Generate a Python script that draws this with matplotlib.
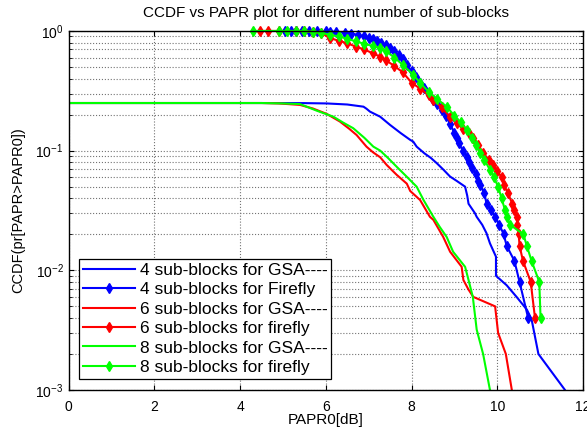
import numpy as np
import matplotlib
matplotlib.use('Agg')
import matplotlib.pyplot as plt

plt.rcParams['font.family'] = ['Liberation Sans', 'DejaVu Sans']

# GSA curves (PAPR0 in dB, CCDF)
gsa4_x = [0, 0, 4.5, 5.5, 6.02, 6.5, 6.88, 6.95, 7.03, 7.27, 7.5, 7.75, 7.97, 8.04, 8.12,
          8.3, 8.45, 8.59, 8.75, 8.9, 9.05, 9.25, 9.3, 9.33, 9.48, 9.52, 9.65, 9.75, 9.83,
          9.97, 9.97, 10.22, 10.45, 10.69, 10.8, 10.96, 11.58, 11.62]
gsa4_y = [1, 0.25, 0.25, 0.2495, 0.248, 0.243, 0.233, 0.224, 0.212, 0.192, 0.164, 0.14,
          0.123, 0.119, 0.108, 0.095, 0.087, 0.0785, 0.069, 0.0607, 0.056, 0.05, 0.042,
          0.036, 0.03, 0.028, 0.024, 0.0204, 0.0168, 0.013, 0.009, 0.0075, 0.006, 0.0047,
          0.0039, 0.002, 0.001, 0.00095]

gsa6_x = [0, 0, 4.5, 4.9, 5.4, 5.7, 6.02, 6.33, 6.55, 6.72, 6.95, 7.1, 7.27, 7.42, 7.65,
          7.89, 7.97, 8.2, 8.43, 8.51, 8.74, 8.9, 9.17, 9.21, 9.33, 9.44, 9.95, 10.02,
          10.2, 10.34, 10.36]
gsa6_y = [1, 0.25, 0.25, 0.248, 0.241, 0.225, 0.203, 0.175, 0.152, 0.135, 0.108, 0.097,
          0.088, 0.076, 0.063, 0.053, 0.046, 0.0387, 0.028, 0.0264, 0.019, 0.0143, 0.0107,
          0.0083, 0.0069, 0.006, 0.005, 0.003, 0.002, 0.001, 0.00095]

gsa8_x = [0, 0, 4.5, 5.0, 5.4, 5.8, 6.18, 6.4, 6.64, 6.9, 7.11, 7.27, 7.45, 7.66, 7.9,
          8.12, 8.28, 8.51, 8.66, 8.82, 8.97, 9.25, 9.33, 9.43, 9.52, 9.67, 9.83, 9.85]
gsa8_y = [1, 0.25, 0.25, 0.248, 0.245, 0.215, 0.192, 0.172, 0.154, 0.128, 0.108, 0.1,
          0.087, 0.073, 0.06, 0.05, 0.0387, 0.028, 0.023, 0.019, 0.0143, 0.0107, 0.0083,
          0.006, 0.0032, 0.002, 0.001, 0.00095]

# Firefly curves
ff4_x = [5.05, 5.2, 5.3, 5.45, 5.6, 5.8, 6.0, 6.1, 6.25, 6.45, 6.6, 6.75, 6.9, 7.0, 7.1,
         7.2, 7.3, 7.4, 7.5, 7.6, 7.7, 7.8, 7.9, 8.0, 8.1, 8.2, 8.3, 8.4, 8.5, 8.6, 8.7,
         8.8, 8.9, 9.0, 9.05, 9.1, 9.2, 9.3, 9.35, 9.4, 9.5, 9.55, 9.6, 9.7, 9.75, 9.85,
         9.95, 10.05, 10.15, 10.22, 10.4, 10.52, 10.72]
ff4_y = [1.0, 1.0, 1.0, 1.0, 1.0, 0.996, 0.992, 0.988, 0.98, 0.968, 0.952, 0.928, 0.9,
         0.876, 0.852, 0.82, 0.788, 0.756, 0.716, 0.676, 0.628, 0.58, 0.524, 0.46, 0.412,
         0.368, 0.332, 0.296, 0.264, 0.244, 0.22, 0.196, 0.168, 0.14, 0.128, 0.116, 0.1,
         0.088, 0.08, 0.072, 0.064, 0.056, 0.052, 0.044, 0.036, 0.032, 0.028, 0.024, 0.02,
         0.016, 0.012, 0.008, 0.004]

ff6_x = [4.47, 4.65, 4.9, 5.3, 5.5, 5.7, 5.9, 6.1, 6.3, 6.5, 6.7, 6.9, 7.1, 7.27, 7.4,
         7.6, 7.8, 8.0, 8.2, 8.4, 8.51, 8.7, 8.9, 9.05, 9.2, 9.35, 9.44, 9.55, 9.67, 9.8,
         9.9, 10.0, 10.1, 10.15, 10.25, 10.35, 10.4, 10.45, 10.47, 10.5, 10.52, 10.6,
         10.78, 10.88]
ff6_y = [1.0, 1.0, 1.0, 1.0, 0.996, 0.98, 0.96, 0.87, 0.83, 0.79, 0.74, 0.7, 0.65, 0.61,
         0.57, 0.51, 0.45, 0.37, 0.33, 0.29, 0.265, 0.23, 0.19, 0.169, 0.152, 0.14, 0.128,
         0.112, 0.096, 0.084, 0.076, 0.068, 0.06, 0.052, 0.044, 0.036, 0.032, 0.028,
         0.024, 0.02, 0.016, 0.012, 0.008, 0.004]

ff8_x = [4.31, 4.9, 5.1, 5.3, 5.5, 5.7, 5.9, 6.1, 6.3, 6.5, 6.7, 6.9, 7.1, 7.27, 7.4,
         7.6, 7.8, 8.04, 8.2, 8.4, 8.6, 8.82, 9.0, 9.15, 9.29, 9.4, 9.5, 9.6, 9.7, 9.83,
         9.92, 10.02, 10.1, 10.18, 10.22, 10.3, 10.61, 10.69, 10.8, 10.98, 11.01]
ff8_y = [1.0, 1.0, 1.0, 1.0, 0.996, 0.984, 0.964, 0.93, 0.9, 0.86, 0.82, 0.78, 0.75,
         0.72, 0.68, 0.6, 0.52, 0.43, 0.37, 0.31, 0.27, 0.233, 0.196, 0.172, 0.149, 0.128,
         0.112, 0.096, 0.084, 0.069, 0.06, 0.05, 0.04, 0.032, 0.028, 0.024, 0.02, 0.016,
         0.012, 0.008, 0.004]

fig = plt.figure(figsize=(5.87, 4.30), dpi=100)
ax = fig.add_axes([0.1167, 0.093, 0.8765, 0.835])

mk = dict(marker='d', markersize=5, markeredgewidth=1.0, clip_on=False)
ax.semilogy(gsa4_x, gsa4_y, color='b', lw=1.5, label='4 sub-blocks for GSA----')
ax.semilogy(ff4_x, ff4_y, color='b', lw=1.5, **mk, label='4 sub-blocks for Firefly')
ax.semilogy(gsa6_x, gsa6_y, color='r', lw=1.5, label='6 sub-blocks for GSA----')
ax.semilogy(ff6_x, ff6_y, color='r', lw=1.5, **mk, label='6 sub-blocks for firefly')
ax.semilogy(gsa8_x, gsa8_y, color='#00ff00', lw=1.5, label='8 sub-blocks for GSA----')
ax.semilogy(ff8_x, ff8_y, color='#00ff00', lw=1.5, **mk, label='8 sub-blocks for firefly')

ax.set_xlim(0, 12)
ax.set_ylim(1e-3, 1)
ax.set_xticks([0, 2, 4, 6, 8, 10, 12])
ax.grid(True, which='major', color='0.45', linestyle=':', lw=0.8)
ax.grid(True, which='minor', axis='y', color='0.45', linestyle=':', lw=0.8)
ax.tick_params(which='both', direction='in', top=True, right=True, labelsize=10)
ax.tick_params(axis='x', pad=7)
ax.tick_params(which='minor', length=2)
for s in ax.spines.values():
    s.set_linewidth(1.0)
    s.set_zorder(3)

ax.set_title('CCDF vs PAPR plot for different number of sub-blocks', fontsize=11, pad=10)
ax.set_xlabel('PAPR0[dB]', fontsize=11)
ax.set_ylabel('CCDF(pr[PAPR>PAPR0])', fontsize=10.5)
ax.xaxis.set_label_coords(0.5, -0.065)
ax.yaxis.set_label_coords(-0.085, 0.5)

leg = ax.legend(loc='lower left', bbox_to_anchor=(0.02, 0.031), fontsize=12.5,
                handlelength=3.0, handletextpad=0.3, labelspacing=0.25,
                borderpad=0.22, borderaxespad=0, fancybox=False, framealpha=1,
                edgecolor='k')
leg.get_frame().set_linewidth(0.9)

fig.savefig('out.png', dpi=100)
